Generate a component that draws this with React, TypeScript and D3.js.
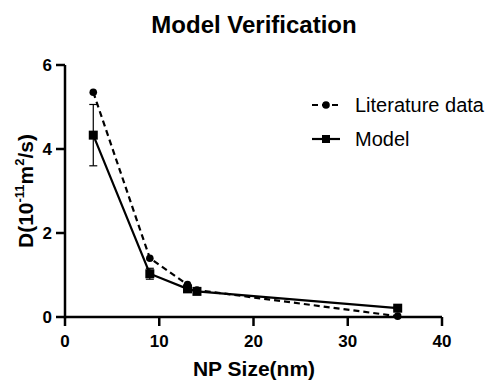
import React from "react";
import * as d3 from "d3";

const litX = [3, 9, 13, 14, 35.3];
const litY = [5.35, 1.4, 0.77, 0.64, 0.02];
const modelX = [3, 9, 13, 14, 35.3];
const modelY = [4.33, 1.03, 0.67, 0.61, 0.21];
const modelErr = [0.73, 0.13, 0.06, 0.05, 0.04];
const xTicks = [0, 10, 20, 30, 40];
const yTicks = [0, 2, 4, 6];

const W = 489, H = 382;
const FONT = "'Liberation Sans', Arial, Helvetica, sans-serif";

export default function App() {
  const x = d3.scaleLinear().domain([0, 40]).range([65, 442]);
  const y = d3.scaleLinear().domain([0, 6]).range([317, 65]);
  const lit = litX.map((v, i) => [v, litY[i]] as [number, number]);
  const mod = modelX.map((v, i) => [v, modelY[i]] as [number, number]);
  const line = d3.line<[number, number]>().x(d => x(d[0])).y(d => y(d[1]));
  const sq = 9;
  return (
    <svg width={W} height={H} style={{ position: "absolute", left: 0, top: 0, background: "#fff" }} fontFamily={FONT}>
      <text x={254} y={33} textAnchor="middle" fontWeight="bold" fontSize={24}>Model Verification</text>
      {/* axes */}
      <line x1={x(0)} x2={x(40)} y1={y(0)} y2={y(0)} stroke="#000" strokeWidth={2.5} />
      <line x1={x(0)} x2={x(0)} y1={y(0) + 1.25} y2={y(6)} stroke="#000" strokeWidth={2.5} />
      {xTicks.map(t => (
        <g key={"x" + t}>
          <line x1={x(t)} x2={x(t)} y1={y(0)} y2={y(0) + 9} stroke="#000" strokeWidth={2.5} />
          <text x={x(t)} y={347} textAnchor="middle" fontWeight="bold" fontSize={17}>{t}</text>
        </g>
      ))}
      {yTicks.map(t => (
        <g key={"y" + t}>
          <line x1={x(0) - 9} x2={x(0)} y1={y(t)} y2={y(t)} stroke="#000" strokeWidth={2.5} />
          <text x={x(0) - 13} y={y(t) + 5.5} textAnchor="end" fontWeight="bold" fontSize={17}>{t}</text>
        </g>
      ))}
      <text x={254} y={376} textAnchor="middle" fontWeight="bold" fontSize={21}>NP Size(nm)</text>
      <text transform="translate(33,191) rotate(-90)" textAnchor="middle" fontWeight="bold" fontSize={21}>
        D(10<tspan dy={-9} fontSize={13}>-11</tspan><tspan dy={9}>m</tspan><tspan dy={-9} fontSize={13}>2</tspan><tspan dy={9}>/s)</tspan>
      </text>
      {/* series */}
      <path d={line(lit) || ""} fill="none" stroke="#000" strokeWidth={2.2} strokeDasharray="6,4" />
      <path d={line(mod) || ""} fill="none" stroke="#000" strokeWidth={2.2} />
      {mod.map((d, i) => (
        <g key={"e" + i}>
          <line x1={x(d[0])} x2={x(d[0])} y1={y(d[1] - modelErr[i])} y2={y(d[1] + modelErr[i])} stroke="#000" strokeWidth={1.2} />
          <line x1={x(d[0]) - 4} x2={x(d[0]) + 4} y1={y(d[1] - modelErr[i])} y2={y(d[1] - modelErr[i])} stroke="#000" strokeWidth={1.2} />
          <line x1={x(d[0]) - 4} x2={x(d[0]) + 4} y1={y(d[1] + modelErr[i])} y2={y(d[1] + modelErr[i])} stroke="#000" strokeWidth={1.2} />
        </g>
      ))}
      {lit.map((d, i) => (
        <circle key={"c" + i} cx={x(d[0])} cy={y(d[1])} r={3.8} fill="#000" />
      ))}
      {mod.map((d, i) => (
        <rect key={"s" + i} x={x(d[0]) - sq / 2} y={y(d[1]) - sq / 2} width={sq} height={sq} fill="#000" />
      ))}
      {/* legend */}
      <g>
        <line x1={312} x2={340} y1={105} y2={105} stroke="#000" strokeWidth={2.2} strokeDasharray="6,4" />
        <circle cx={326} cy={105} r={3.8} fill="#000" />
        <text x={355} y={112} fontSize={20}>Literature data</text>
        <line x1={312} x2={340} y1={139} y2={139} stroke="#000" strokeWidth={2.2} />
        <rect x={326 - 4} y={139 - 4} width={8} height={8} fill="#000" />
        <text x={355} y={146} fontSize={20}>Model</text>
      </g>
    </svg>
  );
}
